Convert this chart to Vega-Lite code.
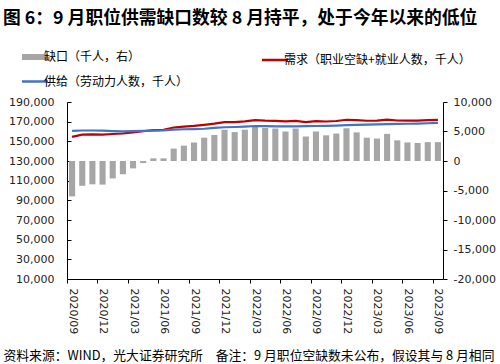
{
  "$schema": "https://vega.github.io/schema/vega-lite/v6.json",
  "width": 376,
  "height": 177,
  "autosize": {"type": "none"},
  "padding": {"left": 67, "top": 102, "right": 57, "bottom": 85},
  "background": "white",
  "title": {
    "text": "图 6：9 月职位供需缺口数较 8 月持平，处于今年以来的低位",
    "anchor": "start",
    "frame": "group",
    "font": "Noto Sans CJK SC",
    "fontSize": 17.8,
    "fontWeight": "bold",
    "color": "#000000",
    "dx": -64,
    "offset": 23
  },
  "config": {
    "view": {"stroke": null},
    "axis": {
      "grid": false,
      "domainColor": "#000000",
      "tickColor": "#000000",
      "labelColor": "#222222",
      "labelFont": "DejaVu Sans",
      "labelFontSize": 11
    },
    "legend": {
      "orient": "none",
      "legendX": -38,
      "legendY": -51,
      "columns": 2,
      "columnPadding": 68,
      "rowPadding": 6.5,
      "padding": 0,
      "symbolType": "stroke",
      "symbolSize": 676,
      "symbolStrokeWidth": 2.5,
      "labelFont": "Noto Sans CJK SC",
      "labelFontSize": 12,
      "labelColor": "#000000",
      "labelOffset": 3,
      "labelLimit": 400,
      "title": null
    }
  },
  "data": {
    "values": [
      {"month": "2020/09", "gap": -6000, "supply": 160600, "demand": 154600},
      {"month": "2020/10", "gap": -4200, "supply": 161000, "demand": 156800},
      {"month": "2020/11", "gap": -3950, "supply": 161000, "demand": 157050},
      {"month": "2020/12", "gap": -4000, "supply": 160800, "demand": 156800},
      {"month": "2021/01", "gap": -2950, "supply": 160400, "demand": 157450},
      {"month": "2021/02", "gap": -2250, "supply": 160200, "demand": 157950},
      {"month": "2021/03", "gap": -1250, "supply": 160300, "demand": 159050},
      {"month": "2021/04", "gap": -350, "supply": 160600, "demand": 160250},
      {"month": "2021/05", "gap": 450, "supply": 160900, "demand": 161350},
      {"month": "2021/06", "gap": 450, "supply": 161200, "demand": 161650},
      {"month": "2021/07", "gap": 2100, "supply": 162000, "demand": 164100},
      {"month": "2021/08", "gap": 2600, "supply": 162300, "demand": 164900},
      {"month": "2021/09", "gap": 3150, "supply": 162500, "demand": 165650},
      {"month": "2021/10", "gap": 3950, "supply": 162800, "demand": 166750},
      {"month": "2021/11", "gap": 4400, "supply": 163600, "demand": 168000},
      {"month": "2021/12", "gap": 5300, "supply": 164300, "demand": 169600},
      {"month": "2022/01", "gap": 4900, "supply": 164600, "demand": 169500},
      {"month": "2022/02", "gap": 5300, "supply": 165000, "demand": 170300},
      {"month": "2022/03", "gap": 5900, "supply": 165600, "demand": 171500},
      {"month": "2022/04", "gap": 5600, "supply": 165400, "demand": 171000},
      {"month": "2022/05", "gap": 5500, "supply": 165300, "demand": 170800},
      {"month": "2022/06", "gap": 5000, "supply": 165200, "demand": 170200},
      {"month": "2022/07", "gap": 5500, "supply": 165300, "demand": 170800},
      {"month": "2022/08", "gap": 4150, "supply": 165400, "demand": 169550},
      {"month": "2022/09", "gap": 5000, "supply": 165600, "demand": 170600},
      {"month": "2022/10", "gap": 4350, "supply": 165800, "demand": 170150},
      {"month": "2022/11", "gap": 4650, "supply": 166000, "demand": 170650},
      {"month": "2022/12", "gap": 5550, "supply": 166400, "demand": 171950},
      {"month": "2023/01", "gap": 4850, "supply": 166700, "demand": 171550},
      {"month": "2023/02", "gap": 3950, "supply": 167000, "demand": 170950},
      {"month": "2023/03", "gap": 3800, "supply": 167200, "demand": 171000},
      {"month": "2023/04", "gap": 4600, "supply": 167500, "demand": 172100},
      {"month": "2023/05", "gap": 3500, "supply": 167700, "demand": 171200},
      {"month": "2023/06", "gap": 3150, "supply": 167900, "demand": 171050},
      {"month": "2023/07", "gap": 3050, "supply": 168100, "demand": 171150},
      {"month": "2023/08", "gap": 3200, "supply": 168400, "demand": 171600},
      {"month": "2023/09", "gap": 3200, "supply": 168700, "demand": 171900}
    ]
  },
  "encoding": {
    "x": {
      "field": "month",
      "type": "ordinal",
      "sort": null,
      "scale": {"paddingInner": 0.4, "paddingOuter": 0.2},
      "axis": {
        "values": ["2020/09", "2020/12", "2021/03", "2021/06", "2021/09", "2021/12", "2022/03", "2022/06", "2022/09", "2022/12", "2023/03", "2023/06", "2023/09"],
        "labelAngle": 90,
        "tickSize": 4,
        "labelPadding": 5,
        "tickOffset": -5.08,
        "labelOffset": 5.08,
        "title": "资料来源：WIND，光大证券研究所\u3000备注：9 月职位空缺数未公布，假设其与 8 月相同",
        "titleX": -64,
        "titleY": 80,
        "titleAlign": "left",
        "titleAnchor": "start",
        "titleBaseline": "alphabetic",
        "titleAngle": 0,
        "titleFont": "Noto Sans CJK SC",
        "titleFontSize": 12.8,
        "titleFontWeight": "normal",
        "titleColor": "#000000"
      }
    }
  },
  "layer": [
    {
      "mark": {"type": "bar", "color": "#A6A6A6"},
      "encoding": {
        "y": {
          "field": "gap",
          "type": "quantitative",
          "scale": {"domain": [-20000, 10000], "nice": false, "zero": false},
          "axis": {
            "orient": "right",
            "title": null,
            "values": [-20000, -15000, -10000, -5000, 0, 5000, 10000],
            "labelExpr": "replace(format(datum.value, ','), '−', '-')",
            "tickSize": 4,
            "labelPadding": 6
          }
        },
        "color": {
          "datum": "缺口（千人，右）",
          "type": "nominal",
          "scale": {
            "domain": ["缺口（千人，右）", "供给（劳动力人数，千人）", "需求（职业空缺+就业人数，千人）"],
            "range": ["#A6A6A6", "#4472C4", "#C00000"]
          },
          "legend": {
            "values": ["缺口（千人，右）", "供给（劳动力人数，千人）", "需求（职业空缺+就业人数，千人）"],
            "encode": {
              "symbols": {
                "update": {
                  "strokeWidth": {"signal": "datum.value === '缺口（千人，右）' ? 6 : 2.5"}
                }
              }
            }
          }
        }
      }
    },
    {
      "layer": [
        {
          "mark": {"type": "line", "strokeWidth": 2.2},
          "encoding": {
            "y": {
              "field": "demand",
              "type": "quantitative",
              "scale": {"domain": [10000, 190000], "nice": false, "zero": false},
              "axis": {
                "orient": "left",
                "title": null,
                "values": [10000, 30000, 50000, 70000, 90000, 110000, 130000, 150000, 170000, 190000],
                "labelExpr": "format(datum.value, ',')",
                "labelOverlap": false,
                "tickSize": -4,
                "labelPadding": 17
              }
            },
            "color": {"datum": "需求（职业空缺+就业人数，千人）", "type": "nominal"}
          }
        },
        {
          "mark": {"type": "line", "strokeWidth": 2.2},
          "encoding": {
            "y": {
              "field": "supply",
              "type": "quantitative",
              "axis": {
                "orient": "left",
                "title": null,
                "values": [10000, 30000, 50000, 70000, 90000, 110000, 130000, 150000, 170000, 190000],
                "labelExpr": "format(datum.value, ',')",
                "labelOverlap": false,
                "tickSize": -4,
                "labelPadding": 17
              }
            },
            "color": {"datum": "供给（劳动力人数，千人）", "type": "nominal"}
          }
        }
      ]
    }
  ],
  "resolve": {"scale": {"y": "independent"}}
}
